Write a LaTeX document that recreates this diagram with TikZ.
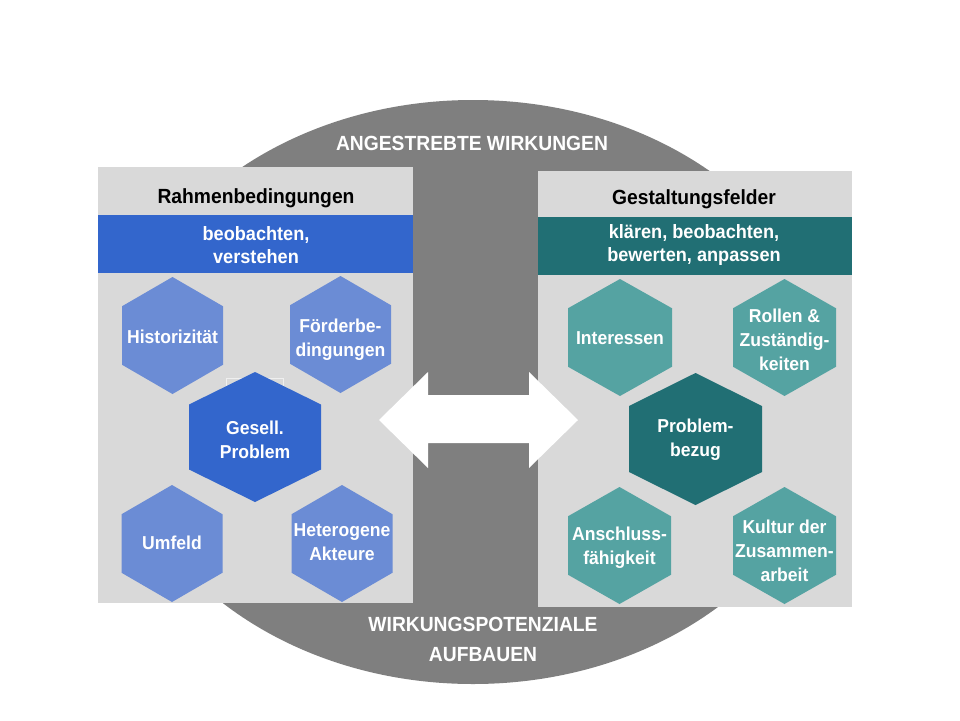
\documentclass[tikz,border=0pt]{standalone}
\usepackage{fontspec}
\setmainfont{Liberation Sans}[FakeStretch=0.94]
\definecolor{ellgray}{HTML}{7F7F7F}
\definecolor{panelgray}{HTML}{D9D9D9}
\definecolor{bandblue}{HTML}{3366CC}
\definecolor{hexblue}{HTML}{6B8CD5}
\definecolor{bandteal}{HTML}{216F74}
\definecolor{hexteal}{HTML}{55A3A2}
\tikzset{
  headtext/.style={font=\bfseries\fontsize{20.5}{23}\selectfont, text=black, align=center, inner sep=0pt},
  elltext/.style={font=\bfseries\fontsize{20.5}{30}\selectfont, text=white, align=center, inner sep=0pt},
  bandtext/.style={font=\bfseries\fontsize{19.3}{23}\selectfont, text=white, align=center, inner sep=0pt},
  hextext/.style={font=\bfseries\fontsize{18.7}{24}\selectfont, text=white, align=center, inner sep=0pt},
}
% name, cx, cy, half width, half height, fill, text y, text
\newcommand\hexa[8]{%
  \fill[#6] (#2,#3-#5) -- (#2+#4,#3-#5/2) -- (#2+#4,#3+#5/2) -- (#2,#3+#5)
    -- (#2-#4,#3+#5/2) -- (#2-#4,#3-#5/2) -- cycle;
  \node[hextext] (#1) at (#2,#7) {#8};
}
\begin{document}
\begin{tikzpicture}[x=1pt,y=-1pt]
\useasboundingbox (0,0) rectangle (960,720);
\fill[white] (0,0) rectangle (960,720);
% big ellipse
\fill[ellgray] (473,392) ellipse [x radius=362, y radius=292];
\node[elltext] (top) at (472,143) {ANGESTREBTE WIRKUNGEN};
\node[elltext] (bottom) at (483,639) {WIRKUNGSPOTENZIALE\\AUFBAUEN};
% left panel
\fill[panelgray] (98,167) rectangle (413,603);
\fill[bandblue] (98,215) rectangle (413,273);
\node[headtext] (lhead) at (256,198) {Rahmenbedingungen};
\node[bandtext] (lband) at (256,245) {beobachten,\\verstehen};
% right panel
\fill[panelgray] (538,171) rectangle (852,607);
\fill[bandteal] (538,217) rectangle (852,275);
\node[headtext] (rhead) at (694,199) {Gestaltungsfelder};
\node[bandtext] (rband) at (694,245) {kl\"aren, beobachten,\\bewerten, anpassen};
% left hexagons
\hexa{hist}{172.5}{335.5}{50.5}{58.5}{hexblue}{337}{Historizit\"at}
\hexa{foerd}{340.5}{334.5}{50.5}{58.5}{hexblue}{340}{F\"orderbe-\\dingungen}
\hexa{umf}{172}{543.5}{50.5}{58.5}{hexblue}{543}{Umfeld}
\hexa{het}{342}{543.5}{50.5}{58.5}{hexblue}{542}{Heterogene\\Akteure}
\draw[white, line width=0.9pt, opacity=0.6] (226,378) rectangle (283,430);
\hexa{ges}{255}{437}{66}{65}{bandblue}{440}{Gesell.\\Problem}
% right hexagons
\hexa{inter}{620}{337.5}{52}{58.5}{hexteal}{338}{Interessen}
\hexa{roll}{784.5}{337.5}{51.5}{58.5}{hexteal}{340}{Rollen \&\\Zust\"andig-\\keiten}
\hexa{ansch}{619.5}{545.5}{51.5}{58.5}{hexteal}{548}{Anschluss-\\f\"ahigkeit}
\hexa{kult}{784.5}{545.5}{51.5}{58.5}{hexteal}{551}{Kultur der\\Zusammen-\\arbeit}
\hexa{probl}{695.5}{439}{66.5}{66}{bandteal}{440}{Problem-\\bezug}
% double arrow
\fill[white] (379,420) -- (428,372) -- (428,395) -- (529,395) -- (529,372)
  -- (578,420) -- (529,468) -- (529,443) -- (428,443) -- (428,468) -- cycle;
\end{tikzpicture}
\end{document}
